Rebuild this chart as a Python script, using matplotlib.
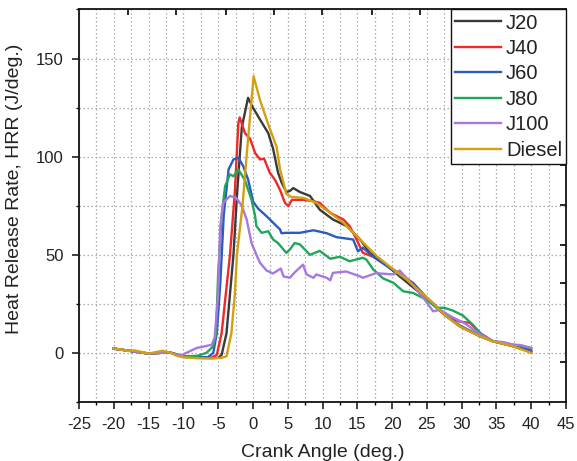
import numpy as np
import matplotlib.pyplot as plt
from matplotlib.ticker import MultipleLocator, NullFormatter

plt.rcParams['font.family'] = ['Liberation Sans', 'DejaVu Sans']
plt.rcParams['axes.unicode_minus'] = False

# Crank angle (deg.) and HRR (J/deg.)
x_diesel = [-20, -19, -18, -17, -16, -15, -14, -13, -12, -11, -10, -8, -6, -4.5, -3.8, -3.1, -2.6, -2.3,
            -1.5, -0.8, 0.1, 1.0, 2.2, 3.4, 3.9, 4.8, 5.5, 7.2, 9.1, 11.1, 13.0, 15.4, 17.8, 20.2, 22.1,
            24.0, 26.0, 27.5, 29.7, 32.6, 34.5, 37.4, 40]
y_diesel = [2.2, 1.8, 1.0, 1.3, 0.5, -0.3, 0.4, 1.1, 0.3, -1.4, -2.2, -2.7, -2.8, -2.5, -1.7, 10, 30, 50,
            75, 105, 141, 129, 116.5, 105, 93.5, 81, 79.5, 79, 76.5, 71.4, 66.3, 57.8, 49.3, 42.5, 37.4,
            31.4, 25, 19.5, 13.6, 8.5, 5.9, 3.4, 0]

x_j20 = [-20, -15, -12, -10, -8, -6, -5, -4.5, -3.8, -3.3, -2.8, -2.3, -1.6, -0.7, 0.0, 1.0, 2.2, 2.9,
         3.6, 4.1, 4.8, 5.3, 5.8, 6.75, 8.2, 9.6, 11.5, 13.5, 15.4, 16.8, 18.2, 21.1, 24.0, 26.0, 27.5,
         29.7, 32.6, 34.5, 37.4, 40]
y_j20 = [2.2, -0.3, 0.3, -2.0, -2.5, -2.6, -2.5, -1.0, 10, 30, 50, 80, 115, 130, 125, 119, 112, 104,
         92, 87, 82, 82.5, 84, 82, 80, 73, 68, 64.6, 57.8, 51, 47.6, 39, 30.6, 25, 19.5,
         13.6, 8.5, 5.9, 3.4, 0.5]

x_j40 = [-20, -15, -12, -10, -8, -6, -5.2, -4.5, -3.9, -3.3, -2.6, -2.1, -1.9, -1.15, -0.4, 0.3, 1.0, 1.6,
         2.4, 3.2, 3.9, 4.6, 5.1, 5.6, 7.2, 8.7, 9.6, 11.1, 13.0, 13.9, 14.9, 15.8, 17.3, 20.2, 23.0,
         25.0, 27.0, 28.5, 29.7, 31.2, 32.6, 34.5, 37.4, 40]
y_j40 = [2.2, -0.3, 0.3, -1.9, -2.4, -2.5, -1.0, 10, 30, 50, 82, 117, 120, 112, 109, 102, 98.6, 99,
         92, 88, 83, 76.5, 74.8, 78, 78, 77.3, 76.5, 71.4, 68, 64.6, 57.8, 51, 49, 42.5, 35.7,
         28, 21, 18, 16, 15.3, 10.2, 6, 3.5, 0.5]

x_j60 = [-20, -15, -12, -10, -8, -6.5, -5.7, -5.2, -4.7, -4.2, -3.5, -2.8, -2.1, -1.4, -0.7, 0.04, 0.76,
         1.95, 3.4, 3.9, 4.1, 4.8, 5.8, 6.75, 8.7, 10.6, 12.0, 14.4, 15.1, 15.8, 17.3, 20.2, 23.0, 25.0,
         27.0, 29.7, 32.6, 34.5, 37.4, 40]
y_j60 = [2.2, -0.3, 0.3, -1.7, -2.2, -2.2, 0, 10, 35, 70, 93.5, 98.6, 99.5, 95.2, 88.4, 77, 73.5,
         69.7, 64.6, 62.9, 61, 61.2, 61.2, 61.2, 62.5, 61, 59, 57.8, 51.8, 53.6, 49, 42, 35.5, 28,
         21.5, 14, 8.8, 6, 3.8, 1.5]

x_j80 = [-20, -15, -12, -10, -8, -6.7, -5.7, -5.3, -5.0, -4.5, -4.0, -3.3, -2.8, -2.1, -1.15, -0.2, 0.3,
         0.5, 1.25, 2.2, 2.9, 3.6, 4.8, 5.3, 6.0, 6.75, 8.2, 9.6, 11.1, 12.5, 13.9, 15.8, 16.3, 17.3,
         18.7, 20.2, 21.6, 23.0, 24.9, 26.4, 27.5, 28.8, 30.2, 31.6, 33.1, 34.5, 37.4, 40]
y_j80 = [2.2, -0.3, 0.3, -1.7, -1.5, 0, 3.4, 10, 40, 70, 85, 91, 90, 93.5, 88, 78, 70,
         64.6, 61.2, 62, 57.8, 56, 51, 52.7, 56, 55.3, 50, 52, 48, 49, 46.7, 48.5, 47.6, 42.5,
         38, 35.7, 31.4, 30.6, 27.2, 23, 23, 21.5, 19, 14.4, 8.5, 5.9, 4.2, 2.5]

x_j100 = [-20, -15, -12, -10.5, -9, -8.1, -7, -5.9, -5.5, -5.0, -4.7, -4.26, -3.3, -2.4, -1.6, -0.9, -0.2,
          0.5, 1.0, 1.95, 2.9, 4.0, 4.4, 5.3, 6.0, 7.2, 7.7, 8.7, 9.1, 10.6, 11.1, 11.5, 13.4, 15.4,
          15.8, 17.8, 18.2, 20.2, 21.1, 23.0, 24.5, 25.9, 26.9, 28.5, 30.5, 32.6, 34.5, 36, 37.4, 38.5, 40]
y_j100 = [2.2, -0.3, 0.3, -1.5, 1, 2.5, 3.3, 4.2, 8, 30, 64, 76.5, 80, 79, 75, 68, 56,
          50, 46, 42, 40.5, 43, 39, 38.3, 41, 45, 40, 38.3, 40, 38.3, 37, 40.8, 41.5, 39,
          38.3, 40.8, 40.5, 40, 42, 34.5, 28, 21.2, 22, 18.5, 15, 9.5, 6, 5.5, 4.2, 4, 2.5]

labels = ['J20', 'J40', 'J60', 'J80', 'J100', 'Diesel']
colors = ['#3a3a3a', '#f02828', '#2a5cc0', '#20a65a', '#a878e0', '#d4a010']
xs = [x_j20, x_j40, x_j60, x_j80, x_j100, x_diesel]
ys = [y_j20, y_j40, y_j60, y_j80, y_j100, y_diesel]

# decorative ticks of the unlabelled top and right axes
top_ticks = [-17.9, -11, -3.9, 3.0, 9.9, 17.05, 24, 31, 38]
right_ticks = [155.8, 135.8, 115.5, 95.6, 75.2, 54.8, 35.4, 15.0, -4.4]

txt = '#222222'
fig = plt.figure(figsize=(5.77, 4.61), dpi=100)
ax = fig.add_axes([0.1369, 0.128, 0.8441, 0.8514])

for x, y, c, lab in zip(xs, ys, colors, labels):
    ax.plot(x, y, color=c, lw=1.7, label=lab)

ax.set_xlim(-25, 45)
ax.set_ylim(-25, 175)
ax.xaxis.set_major_locator(MultipleLocator(5))
ax.xaxis.set_minor_locator(MultipleLocator(2.5))
ax.yaxis.set_major_locator(MultipleLocator(50))
ax.yaxis.set_minor_locator(MultipleLocator(25))
ax.grid(True, which='both', color='#aaaaaa', ls=(0, (1.2, 2.0)), lw=0.9)
ax.tick_params(which='major', length=4.8, width=1.2, labelsize=12, colors=txt, pad=6)
ax.tick_params(which='minor', length=2.4, width=1.0)
for s in ['left', 'bottom', 'top', 'right']:
    ax.spines[s].set_linewidth(1.3)
    ax.spines[s].set_color('#111111')

ax.set_xlabel('Crank Angle (deg.)', fontsize=14, color=txt, labelpad=9)
ax.set_ylabel('Heat Release Rate, HRR (J/deg.)', fontsize=14, color=txt, labelpad=7)
ax.yaxis.set_label_coords(-0.115, 0.543)

sx = ax.secondary_xaxis('top')
sx.set_xticks(top_ticks)
sx.xaxis.set_major_formatter(NullFormatter())
sx.tick_params(direction='in', length=4.5, width=1.2)
sx.spines['top'].set_visible(False)
sy = ax.secondary_yaxis('right')
sy.set_yticks(right_ticks)
sy.yaxis.set_major_formatter(NullFormatter())
sy.tick_params(direction='in', length=4.5, width=1.2)
sy.spines['right'].set_visible(False)

leg = ax.legend(loc='upper right', bbox_to_anchor=(1, 1), borderaxespad=0, fontsize=14.5,
                fancybox=False, edgecolor='#111111', framealpha=1, handlelength=2.3,
                handletextpad=0.25, labelspacing=0.32, borderpad=0.2)
leg.get_frame().set_linewidth(1.0)
for t in leg.get_texts():
    t.set_color(txt)

fig.savefig('out.png', dpi=100)
